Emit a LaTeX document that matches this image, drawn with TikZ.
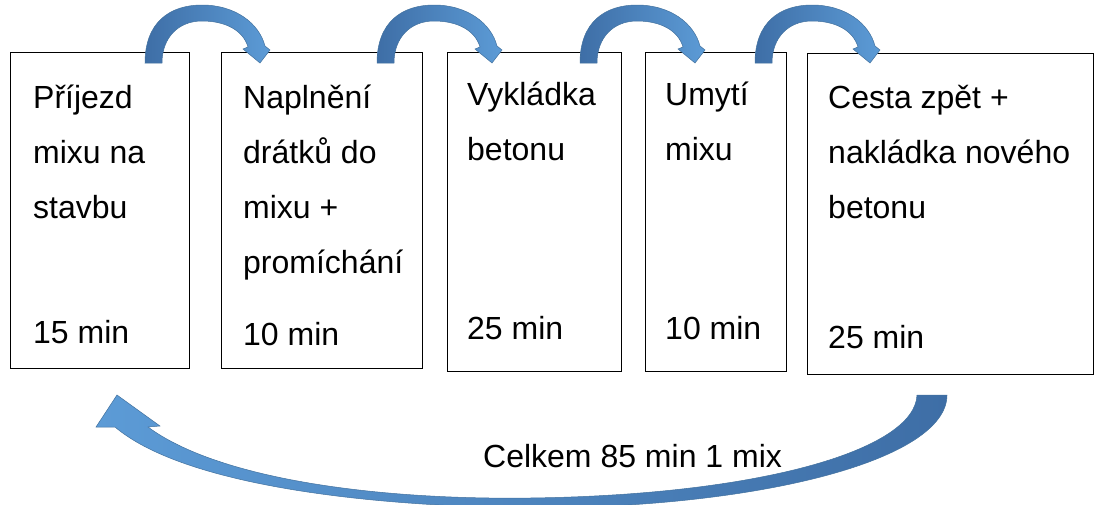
\documentclass[tikz,border=0pt]{standalone}
\usepackage{fontspec}
\setmainfont{Liberation Sans}
\definecolor{arrdark}{RGB}{62,110,166}
\definecolor{arrlight}{RGB}{92,155,214}
\definecolor{arredge}{RGB}{66,113,158}
\begin{document}
\begin{tikzpicture}[x=1pt,y=-1pt,
  stepbox/.style={draw=black,line width=1.2pt,inner sep=0pt,anchor=north west},
  lbl/.style={inner sep=0pt,anchor=base west,font=\fontsize{32}{55}\selectfont},
  toparr/.style={left color=arrdark,right color=arrlight,draw=arredge,line width=0.5pt},
  botarr/.style={left color=arrlight,right color=arrdark,draw=arredge,line width=0.5pt},
  curvearrow/.pic={
    \path[toparr] (0,63) .. controls (0,22) and (25,5) .. (57,5)
      .. controls (90,5) and (114,23) .. (120,46)
      -- (125,50) -- (115,63) -- (98,49) -- (103,47)
      .. controls (98,30) and (80,21) .. (57,21)
      .. controls (33,21) and (17,38) .. (17,63) -- cycle;
  }]
\useasboundingbox (0,0) rectangle (1102,504);
\clip (0,0) rectangle (1102,504);

% boxes
\node[stepbox,minimum width=179pt,minimum height=316pt] (b1) at (10,52) {};
\node[stepbox,minimum width=201pt,minimum height=316pt] (b2) at (221,52) {};
\node[stepbox,minimum width=174pt,minimum height=319pt] (b3) at (447,52) {};
\node[stepbox,minimum width=141pt,minimum height=319pt] (b4) at (645,52) {};
\node[stepbox,minimum width=286pt,minimum height=321pt] (b5) at (807,53) {};

% texts
\node[lbl] (t1) at (33,108) {\parbox[t]{200pt}{\raggedright Příjezd\\mixu na\\stavbu}};
\node[lbl] (m1) at (33,343) {15 min};
\node[lbl] (t2) at (243,108) {\parbox[t]{200pt}{\raggedright Naplnění\\drátků do\\mixu +\\promíchání}};
\node[lbl] (m2) at (243,345) {10 min};
\node[lbl] (t3) at (467,105) {\parbox[t]{200pt}{\raggedright Vykládka\\betonu}};
\node[lbl] (m3) at (467,339) {25 min};
\node[lbl] (t4) at (665,105) {\parbox[t]{200pt}{\raggedright Umytí\\mixu}};
\node[lbl] (m4) at (665,339) {10 min};
\node[lbl] (t5) at (828,108) {\parbox[t]{300pt}{\raggedright Cesta zpět +\\nakládka nového\\betonu}};
\node[lbl] (m5) at (828,348) {25 min};

% curved arrows between boxes
\pic (a1) at (145,0) {curvearrow};
\pic (a2) at (377,0) {curvearrow};
\pic (a3) at (580,0) {curvearrow};
\pic (a4) at (755,0) {curvearrow};

% return arrow
\path[botarr] (917,395) .. controls (915,450) and (760,495) .. (530,498)
  .. controls (380,500) and (220,480) .. (148,427)
  -- (160,426) -- (117,395) -- (96,427) -- (115,427)
  .. controls (180,482) and (350,506) .. (530,508)
  .. controls (760,508) and (947,460) .. (947,395) -- cycle;

\node[lbl] (total) at (483,467) {Celkem 85 min 1 mix};
\end{tikzpicture}
\end{document}
